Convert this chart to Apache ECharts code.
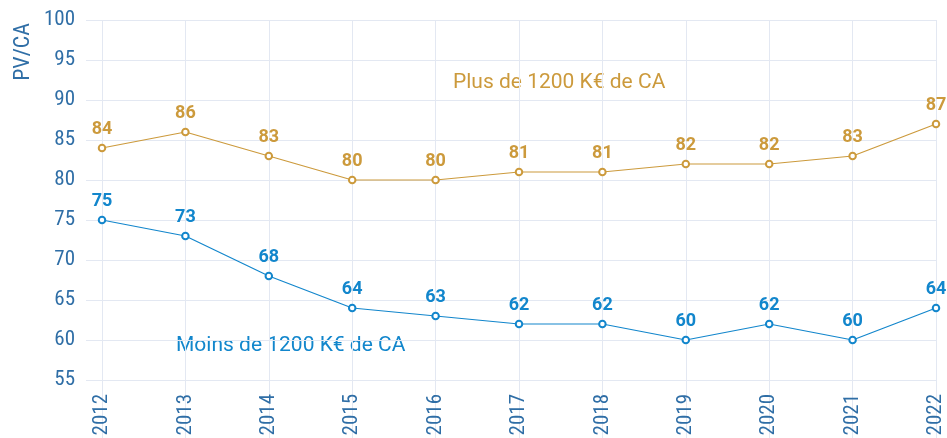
<!DOCTYPE html>
<html><head><meta charset="utf-8">
<script src="https://cdn.jsdelivr.net/npm/echarts@6/dist/echarts.min.js"></script>
<style>html,body{margin:0;padding:0;background:#fff}#c{width:947px;height:438px}</style>
</head><body><div id="c"></div>
<script>
const years = ['2012','2013','2014','2015','2016','2017','2018','2019','2020','2021','2022'];
const plusValues = [84,86,83,80,80,81,81,82,82,83,87];
const moinsValues = [75,73,68,64,63,62,62,60,62,60,64];
const yTicks = {min:55, max:100, interval:5};
const plusName = 'Plus de 1200 K€ de CA';
const moinsName = 'Moins de 1200 K€ de CA';
const yName = 'PV/CA';

const gridColor = '#e3e8f2';
const axisColor = '#2f6ea6';
const gold = '#cc9a3c';
const blue = '#1286cc';
const narrow = '"Roboto Condensed", Roboto, sans-serif';

const chart = echarts.init(document.getElementById('c'), null, {renderer:'canvas'});
chart.setOption({
  animation:false,
  grid:[
    {left:102, right:11, top:20, bottom:58, outerBoundsMode:'none', containLabel:false},
    {left:86, right:11, top:20, bottom:58, outerBoundsMode:'none', containLabel:false}
  ],
  xAxis:[
    {type:'category', gridIndex:0, data:years, boundaryGap:false,
     axisLine:{show:false},
     axisTick:{show:true, length:60, lineStyle:{color:gridColor, width:1}},
     splitLine:{show:true, lineStyle:{color:gridColor, width:1}},
     axisLabel:{rotate:90, margin:14, color:axisColor, fontSize:21, fontFamily:narrow, hideOverlap:false}},
    {type:'value', gridIndex:1, show:false, min:0, max:1}
  ],
  yAxis:[
    {type:'value', gridIndex:0, min:yTicks.min, max:yTicks.max, interval:yTicks.interval,
     show:false, splitLine:{show:false}},
    {type:'value', gridIndex:1, min:yTicks.min, max:yTicks.max, interval:yTicks.interval,
     axisLine:{show:false}, axisTick:{show:false},
     splitLine:{show:true, lineStyle:{color:gridColor, width:1}},
     axisLabel:{margin:11, color:axisColor, fontSize:21, fontFamily:narrow}}
  ],
  graphic:[
    {type:'text', x:34, y:23, rotation:Math.PI/2,
     style:{text:yName, fill:axisColor, font:'22px '+narrow, align:'right', verticalAlign:'bottom'}},
    {type:'text', x:453, y:83,
     style:{text:plusName, fill:gold, font:'21px Roboto', verticalAlign:'middle'}},
    {type:'text', x:176, y:346,
     style:{text:moinsName, fill:blue, font:'21px Roboto', verticalAlign:'middle'}}
  ],
  series:[
    {type:'line', name:plusName, xAxisIndex:0, yAxisIndex:0, data:plusValues,
     symbol:'emptyCircle', symbolSize:6.5, lineStyle:{color:gold, width:1.2},
     itemStyle:{color:gold, borderWidth:2.5},
     label:{show:true, position:'top', distance:5, color:gold, fontSize:18, fontWeight:'bold', fontFamily:'Roboto'}},
    {type:'line', name:moinsName, xAxisIndex:0, yAxisIndex:0, data:moinsValues,
     symbol:'emptyCircle', symbolSize:6.5, lineStyle:{color:blue, width:1.2},
     itemStyle:{color:blue, borderWidth:2.5},
     label:{show:true, position:'top', distance:5, color:blue, fontSize:18, fontWeight:'bold', fontFamily:'Roboto'}}
  ]
});
</script></body></html>
